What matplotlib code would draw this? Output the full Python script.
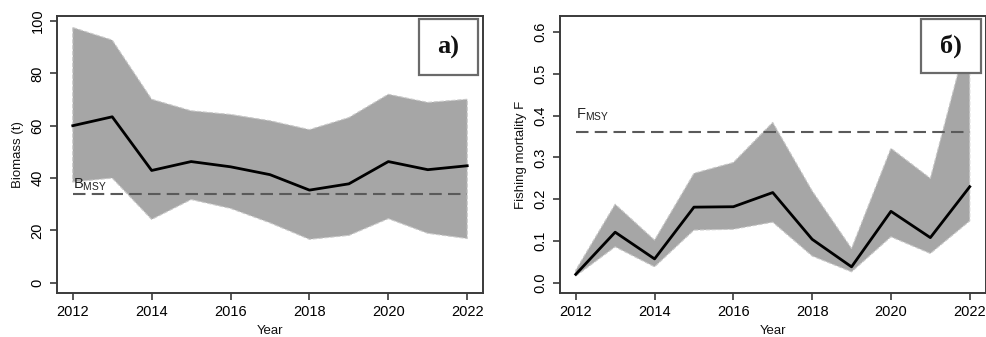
import matplotlib
matplotlib.use("Agg")
import matplotlib.pyplot as plt
from matplotlib.ticker import FormatStrFormatter

years = [2012, 2013, 2014, 2015, 2016, 2017, 2018, 2019, 2020, 2021, 2022]

biomass_mean = [60.0, 63.4, 42.9, 46.3, 44.3, 41.3, 35.4, 37.8, 46.3, 43.2, 44.7]
biomass_upper = [97.5, 92.7, 70.1, 65.7, 64.3, 61.9, 58.5, 63.1, 72.0, 68.9, 70.1]
biomass_lower = [38.5, 40.0, 24.2, 31.8, 28.4, 22.9, 16.6, 18.1, 24.5, 18.9, 16.9]
b_msy = 33.9

f_mean = [0.020, 0.121, 0.057, 0.181, 0.182, 0.216, 0.104, 0.038, 0.171, 0.108, 0.230]
f_upper = [0.030, 0.188, 0.102, 0.262, 0.288, 0.384, 0.220, 0.082, 0.322, 0.250, 0.610]
f_lower = [0.016, 0.086, 0.038, 0.126, 0.128, 0.145, 0.064, 0.026, 0.110, 0.070, 0.148]
f_msy = 0.361

xticks = [2012, 2014, 2016, 2018, 2020, 2022]
b_yticks = [0, 20, 40, 60, 80, 100]
f_yticks = [0.0, 0.1, 0.2, 0.3, 0.4, 0.5, 0.6]

plt.rcParams['font.family'] = ['Liberation Sans', 'DejaVu Sans']

fig = plt.figure(figsize=(9.87, 3.37), dpi=100)
ax1 = fig.add_axes([57/987, 1-293/337, (483-57)/987, (293-16)/337])
ax2 = fig.add_axes([560/987, 1-293/337, (985.5-560)/987, (293-16)/337])

band_col = '#a6a6a6'
spine_col = '#3a3a3a'
dash_col = '#5a5a5a'

def style(ax, yt, ylim, ylabel, fmt=None):
    ax.set_xlim(2011.6, 2022.4)
    ax.set_ylim(*ylim)
    ax.set_xticks(xticks)
    ax.set_yticks(yt)
    if fmt:
        ax.yaxis.set_major_formatter(FormatStrFormatter(fmt))
    for s in ax.spines.values():
        s.set_color(spine_col)
        s.set_linewidth(1.4)
    ax.tick_params(axis='both', direction='out', length=5, width=1.2,
                   color=spine_col, labelsize=10.5, labelcolor='#000000', pad=4)
    for lab in ax.get_yticklabels():
        lab.set_rotation(90)
        lab.set_va('center')
    ax.set_xlabel('Year', fontsize=9.5, labelpad=4, color='#111111')
    ax.set_ylabel(ylabel, fontsize=9.5, labelpad=5, color='#111111')

# Panel a
ax1.fill_between(years, biomass_lower, biomass_upper, color=band_col,
                 edgecolor='#c8c8c8', linewidth=0.8, linestyle='--', zorder=1)
ax1.plot(years, biomass_mean, color='black', lw=2.0, zorder=3)
ax1.plot([years[0], years[-1]], [b_msy, b_msy], color=dash_col, lw=1.5,
         dashes=(6, 3), zorder=2)
ax1.text(years[0], 36.0, r'B$_\mathregular{MSY}$', fontsize=10.5, va='baseline',
         ha='left', color='#222222')
style(ax1, b_yticks, (-3.9, 101.9), 'Biomass (t)')

# Panel b
ax2.fill_between(years, f_lower, f_upper, color=band_col,
                 edgecolor='#c8c8c8', linewidth=0.8, linestyle='--', zorder=1)
ax2.plot(years, f_mean, color='black', lw=2.0, zorder=3)
ax2.plot([years[0], years[-1]], [f_msy, f_msy], color=dash_col, lw=1.5,
         dashes=(6, 3), zorder=2)
ax2.text(years[0], 0.393, r'F$_\mathregular{MSY}$', fontsize=10.5, va='baseline',
         ha='left', color='#222222')
style(ax2, f_yticks, (-0.0247, 0.639), 'Fishing mortality F', fmt='%.1f')

def label_box(ax, fig_x0, fig_x1, fig_y0, fig_y1, text):
    bbox = ax.get_position()
    W, H = 987, 337
    ax_x0 = bbox.x0 * W
    ax_w = bbox.width * W
    ax_y1 = (1 - bbox.y1) * H
    ax_h = bbox.height * H
    fx0 = (fig_x0 - ax_x0) / ax_w
    fx1 = (fig_x1 - ax_x0) / ax_w
    fy_top = 1 - (fig_y0 - ax_y1) / ax_h
    fy_bot = 1 - (fig_y1 - ax_y1) / ax_h
    rect = plt.Rectangle((fx0, fy_bot), fx1 - fx0, fy_top - fy_bot,
                         transform=ax.transAxes, facecolor='white',
                         edgecolor='#6a6a6a', linewidth=1.6, zorder=5,
                         clip_on=False)
    ax.add_patch(rect)
    ax.text((fx0 + fx1) / 2, (fy_top + fy_bot) / 2, text, transform=ax.transAxes,
            ha='center', va='center', fontsize=19, fontweight='bold',
            family=['Liberation Serif', 'DejaVu Serif'], zorder=6, color='#111111')

label_box(ax1, 419, 478, 19, 75, 'a)')
label_box(ax2, 921, 981, 19, 73, 'б)')

fig.savefig('out.png', dpi=100)
